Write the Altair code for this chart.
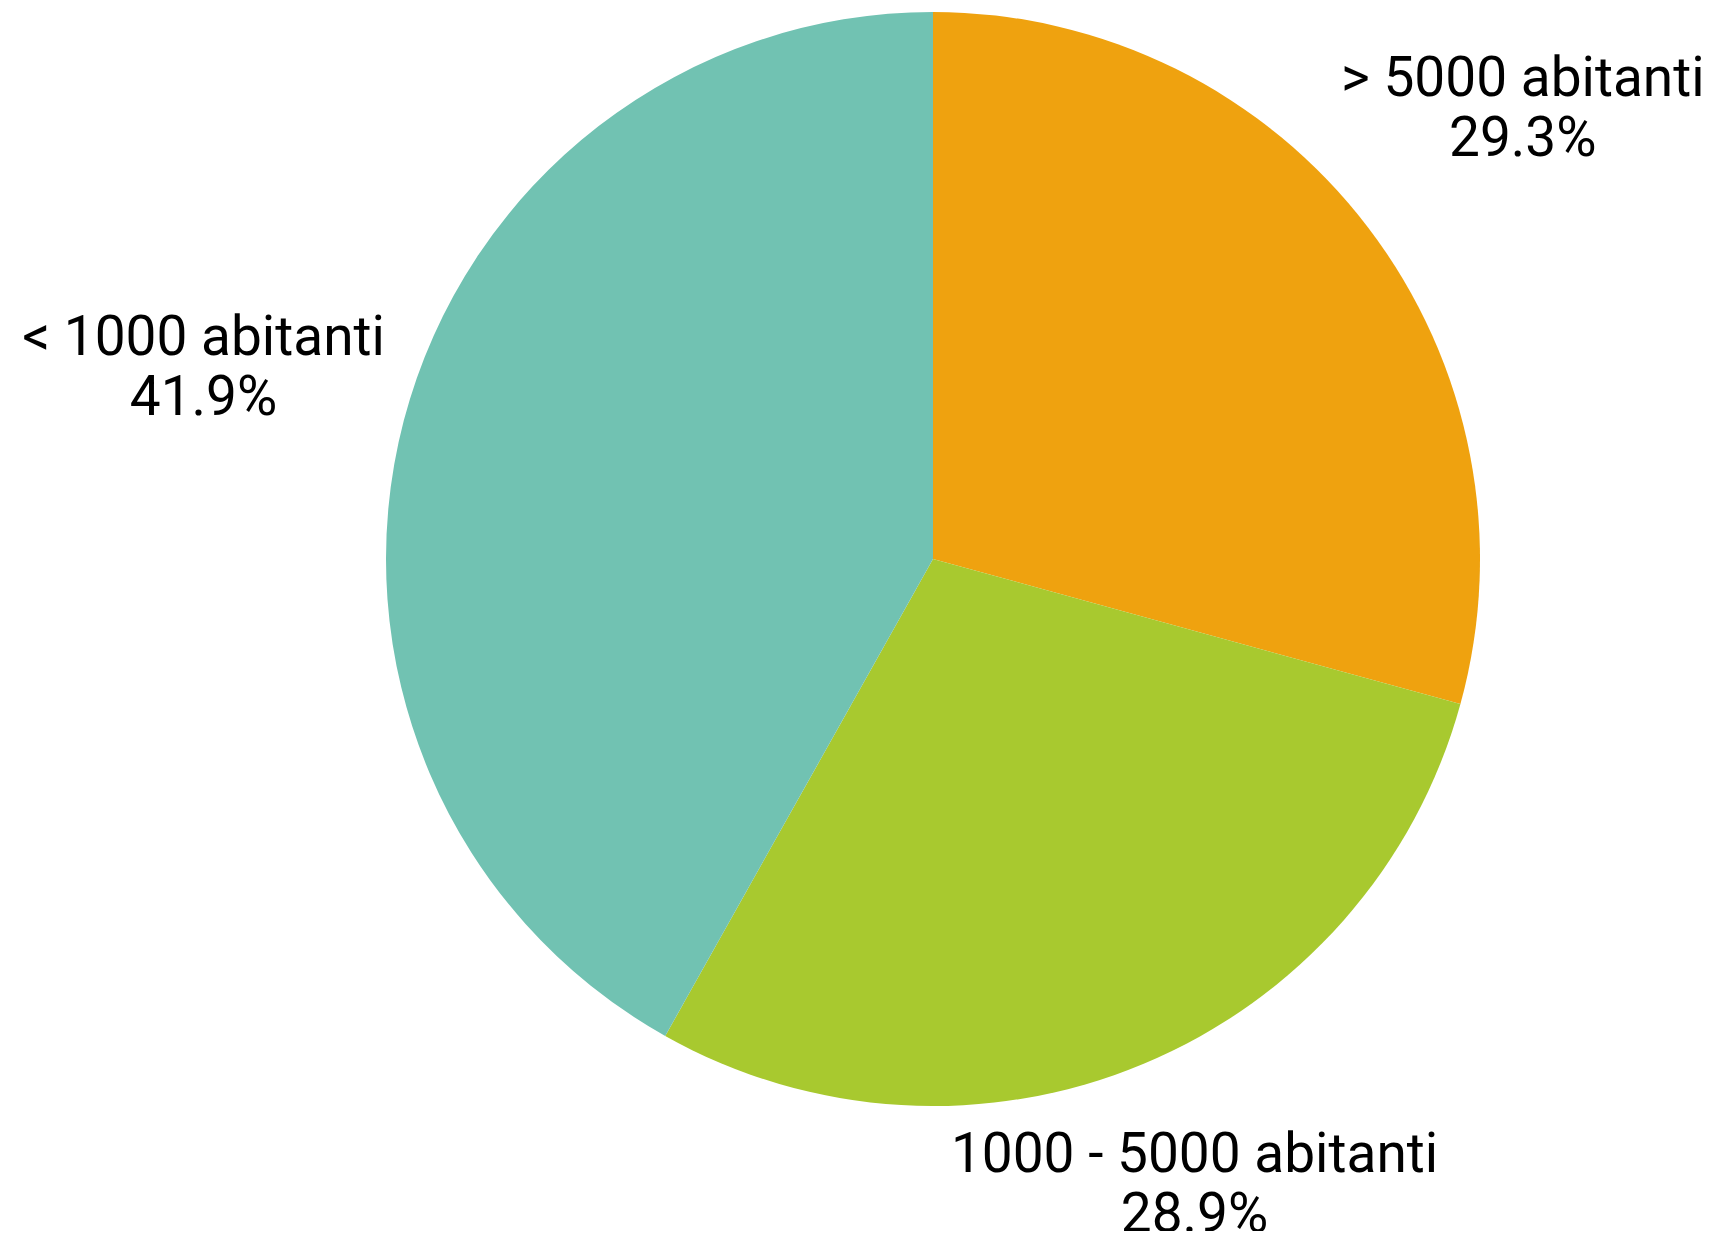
import altair as alt
import pandas as pd

# ---- data ----
categories = ["> 5000 abitanti", "1000 - 5000 abitanti", "< 1000 abitanti"]
shares = [29.3, 28.9, 41.9]
colors = ["#EFA20F", "#A8C92F", "#71C2B2"]

df = pd.DataFrame({"cat": categories, "share": shares, "idx": list(range(len(categories)))})

# ---- layout / style ----
CX, CY = 925, 551          # pie centre inside the view
R_OUT = 547                # pie radius
LABEL_R = R_OUT + 20       # nearest label-box corner distance from centre
CHAR_W = 23.7              # approx. label character width
LINE_H = 60
FONT = "Roboto"

arcs = alt.Chart(df).mark_arc(outerRadius=R_OUT, x=CX, y=CY).encode(
    theta=alt.Theta("share:Q", stack=True),
    order=alt.Order("idx:Q"),
    color=alt.Color("cat:N", scale=alt.Scale(domain=categories, range=colors), legend=None),
)

labels = (
    alt.Chart(df)
    .transform_window(cum="sum(share)", sort=[alt.SortField("idx")], frame=[None, 0])
    .transform_joinaggregate(total="sum(share)")
    .transform_calculate(
        midv="datum.cum - datum.share / 2",
        mid="(datum.cum - datum.share/2) / datum.total * 2 * PI",
        ux="sin(datum.mid)",
        uy="-cos(datum.mid)",
        hw=f"{CHAR_W} * length(datum.cat) / 2",
        hh=f"{LINE_H}",
        uv="abs(datum.ux) * datum.hw + abs(datum.uy) * datum.hh",
        dist=f"datum.uv + sqrt(datum.uv*datum.uv - datum.hw*datum.hw - datum.hh*datum.hh + {LABEL_R * LABEL_R})",
        label="datum.cat + '\\n' + format(datum.share, '.1f') + '%'",
    )
    .mark_text(
        x=CX, y=CY, dy=-LINE_H / 2, font=FONT, fontSize=55, lineHeight=LINE_H, lineBreak="\n",
        align="center", baseline="middle", color="#000000",
    )
    .encode(
        theta=alt.Theta("midv:Q", stack=None),
        radius=alt.Radius("dist:Q", scale=None),
        text="label:N",
    )
)

chart = (
    alt.layer(arcs, labels)
    .properties(width=1697, height=1223, padding=0, autosize="none", background="white")
    .configure_view(strokeWidth=0)
)

chart.save("out.html", embed_options={"renderer": "svg", "actions": False})
